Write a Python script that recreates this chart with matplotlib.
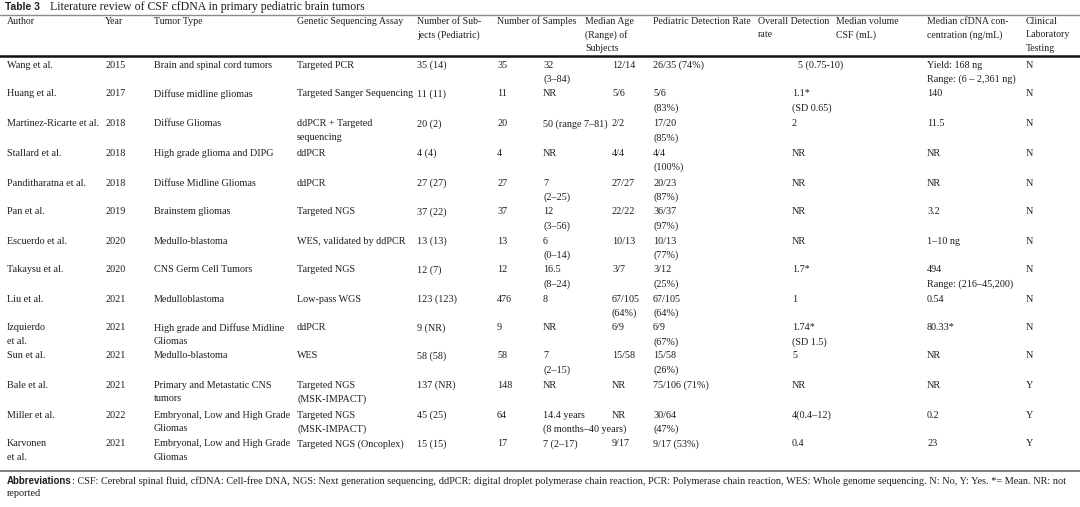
import matplotlib
matplotlib.use("Agg")
import matplotlib.pyplot as plt

# table content
headers = ["Author", "Year", "Tumor Type", "Genetic Sequencing Assay",
           "Number of Sub-\njects (Pediatric)", "Number of Samples",
           "Median Age\n(Range) of\nSubjects", "Pediatric Detection Rate",
           "Overall Detection\nrate", "Median volume\nCSF (mL)",
           "Median cfDNA con-\ncentration (ng/mL)", "Clinical\nLaboratory\nTesting"]

authors = ["Wang et al.", "Huang et al.", "Martinez-Ricarte et al.", "Stallard et al.",
           "Panditharatna et al.", "Pan et al.", "Escuerdo et al.", "Takaysu et al.",
           "Liu et al.", "Izquierdo\net al.", "Sun et al.", "Bale et al.",
           "Miller et al.", "Karvonen\net al."]
years = ["2015", "2017", "2018", "2018", "2018", "2019", "2020", "2020",
         "2021", "2021", "2021", "2021", "2022", "2021"]
tumor = ["Brain and spinal cord tumors", "Diffuse midline gliomas", "Diffuse Gliomas",
         "High grade glioma and DIPG", "Diffuse Midline Gliomas", "Brainstem gliomas",
         "Medullo-blastoma", "CNS Germ Cell Tumors", "Medulloblastoma",
         "High grade and Diffuse Midline\nGliomas", "Medullo-blastoma",
         "Primary and Metastatic CNS\ntumors", "Embryonal, Low and High Grade\nGliomas",
         "Embryonal, Low and High Grade\nGliomas"]
assay = ["Targeted PCR", "Targeted Sanger Sequencing", "ddPCR + Targeted\nsequencing",
         "ddPCR", "ddPCR", "Targeted NGS", "WES, validated by ddPCR", "Targeted NGS",
         "Low-pass WGS", "ddPCR", "WES", "Targeted NGS\n(MSK-IMPACT)",
         "Targeted NGS\n(MSK-IMPACT)", "Targeted NGS (Oncoplex)"]
subjects = ["35 (14)", "11 (11)", "20 (2)", "4 (4)", "27 (27)", "37 (22)", "13 (13)",
            "12 (7)", "123 (123)", "9 (NR)", "58 (58)", "137 (NR)", "45 (25)", "15 (15)"]
samples = ["35", "11", "20", "4", "27", "37", "13", "12", "476", "9", "58", "148", "64", "17"]
median_age = ["32\n(3–84)", "NR", "50 (range 7–81)", "NR", "7\n(2–25)", "12\n(3–56)",
              "6\n(0–14)", "16.5\n(8–24)", "8", "NR", "7\n(2–15)", "NR",
              "14.4 years\n(8 months–40 years)", "7 (2–17)"]
ped_rate = ["12/14", "5/6", "2/2", "4/4", "27/27", "22/22", "10/13", "3/7",
            "67/105\n(64%)", "6/9", "15/58", "NR", "NR", "9/17"]
overall = ["26/35 (74%)", "5/6\n(83%)", "17/20\n(85%)", "4/4\n(100%)", "20/23\n(87%)",
           "36/37\n(97%)", "10/13\n(77%)", "3/12\n(25%)", "67/105\n(64%)", "6/9\n(67%)",
           "15/58\n(26%)", "75/106 (71%)", "30/64\n(47%)", "9/17 (53%)"]
volume = ["5 (0.75-10)", "1.1*\n(SD 0.65)", "2", "NR", "NR", "NR", "NR", "1.7*", "1",
          "1.74*\n(SD 1.5)", "5", "NR", "4(0.4–12)", "0.4"]
cfdna = ["Yield: 168 ng\nRange: (6 – 2,361 ng)", "140", "11.5", "NR", "NR", "3.2",
         "1–10 ng", "494\nRange: (216–45,200)", "0.54", "80.33*", "NR", "NR", "0.2", "23"]
clinical = ["N", "N", "N", "N", "N", "N", "N", "N", "N", "N", "N", "Y", "Y", "Y"]

columns = [authors, years, tumor, assay, subjects, samples, median_age,
           ped_rate, overall, volume, cfdna, clinical]

# layout (pixel positions)
header_x = [7, 105, 154, 297, 417, 497, 585, 653, 758, 836, 927, 1026]
data_x = [7, 105, 154, 297, 417, 497, 543, 612, 653, 792, 927, 1026]
row_y = [65, 94, 124, 153, 183, 212, 241, 270, 299, 328, 356, 385, 415, 444]
line_h = 13.8

serif = "Liberation Serif"
fs = 7.25
col = "#1e1e1e"

fig = plt.figure(figsize=(10.8, 5.07), dpi=100)
ax = fig.add_axes([0, 0, 1, 1])
ax.set_xlim(0, 1080)
ax.set_ylim(507, 0)
ax.axis("off")


def cell(x, y, s, size=fs):
    for i, line in enumerate(s.split("\n")):
        ax.text(x, y + i * line_h, line, family=serif, fontsize=size,
                va="center", color=col)


ax.text(5, 7, "Table 3", family="Liberation Sans", weight="bold", fontsize=7.4,
        va="center", color=col)
ax.text(50, 7, "Literature review of CSF cfDNA in primary pediatric brain tumors",
        family=serif, fontsize=8.5, va="center", color=col)

ax.plot([0, 1080], [14.5, 14.5], color="#8a8a8a", lw=1.0)
ax.plot([0, 1080], [56, 56], color="#111111", lw=1.8)
ax.plot([0, 1080], [471, 471], color="#6a6a6a", lw=1.2)

for x, h in zip(header_x, headers):
    cell(x, 21, h, size=7.1)

for x, values in zip(data_x, columns):
    for y, v in zip(row_y, values):
        if v == "5 (0.75-10)":
            cell(x + 6, y, v)
        else:
            cell(x, y, v)

# footnote
fig.canvas.draw()
r = fig.canvas.get_renderer()
b = ax.text(7, 481, "Abbreviations", family="Liberation Sans", weight="bold",
            fontsize=7.0, va="center", color=col)
bb = b.get_window_extent(renderer=r)
ax.text(7 + bb.width, 481,
        ": CSF: Cerebral spinal fluid, cfDNA: Cell-free DNA, NGS: Next generation sequencing, "
        "ddPCR: digital droplet polymerase chain reaction, PCR: Polymerase chain reaction, "
        "WES: Whole genome sequencing. N: No, Y: Yes. *= Mean. NR: not",
        family=serif, fontsize=7.4, va="center", color=col)
ax.text(7, 494, "reported", family=serif, fontsize=7.4, va="center", color=col)

fig.savefig("out.png", dpi=100, facecolor="white")
